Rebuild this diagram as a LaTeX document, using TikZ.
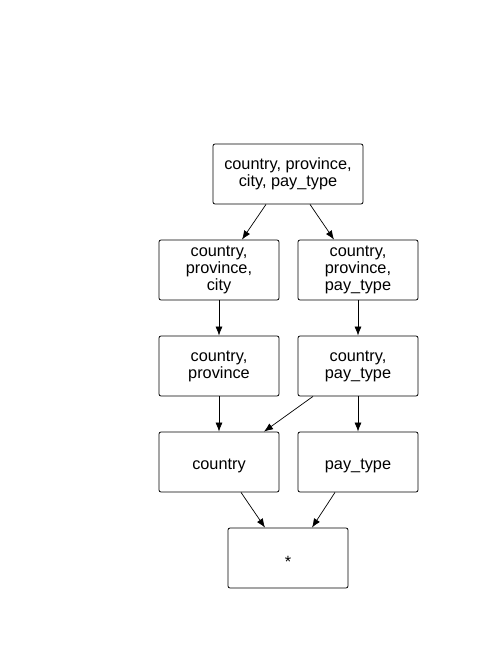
\documentclass[tikz,border=0pt]{standalone}
\usepackage{fontspec}
\setmainfont{Liberation Sans}
\usetikzlibrary{arrows.meta}
\begin{document}
\begin{tikzpicture}[x=1pt,y=-1pt,every node/.style={font=\fontsize{16.3}{17}\selectfont},
  cuboid/.style={draw,line width=0.8pt,rounded corners=2pt,minimum width=120pt,minimum height=60pt,inner sep=0pt,align=center,
    execute at begin node={\rule{0pt}{19pt}}},
  rollup/.style={-{Latex[length=9pt,width=7pt]},line width=0.7pt}]
    \useasboundingbox (0,0) rectangle (490,661);

    % Lattice of groupings
    \node[cuboid,minimum width=150pt] (all) at (288,174) {country, province,\\city, pay\_type};
    \node[cuboid] (cpc) at (219,270) {country,\\province,\\city};
    \node[cuboid] (cpp) at (358,270) {country,\\province,\\pay\_type};
    \node[cuboid] (cp) at (219,366) {country,\\province};
    \node[cuboid] (ct) at (358,366) {country,\\pay\_type};
    \node[cuboid] (c) at (219,462) {country};
    \node[cuboid] (t) at (358,462) {pay\_type};
    \node[cuboid] (apex) at (288,558) {*};

    % Roll-up arrows
    \draw[rollup] ([xshift=-22pt]all.south) -- ([xshift=23pt]cpc.north);
    \draw[rollup] ([xshift=22pt]all.south) -- ([xshift=-24pt]cpp.north);
    \draw[rollup] (cpc) -- (cp);
    \draw[rollup] (cpp) -- (ct);
    \draw[rollup] (cp) -- (c);
    \draw[rollup] ([xshift=-45pt]ct.south) -- ([xshift=45pt]c.north);
    \draw[rollup] (ct) -- (t);
    \draw[rollup] ([xshift=22pt]c.south) -- ([xshift=-23pt]apex.north);
    \draw[rollup] ([xshift=-23pt]t.south) -- ([xshift=24pt]apex.north);
\end{tikzpicture}
\end{document}
